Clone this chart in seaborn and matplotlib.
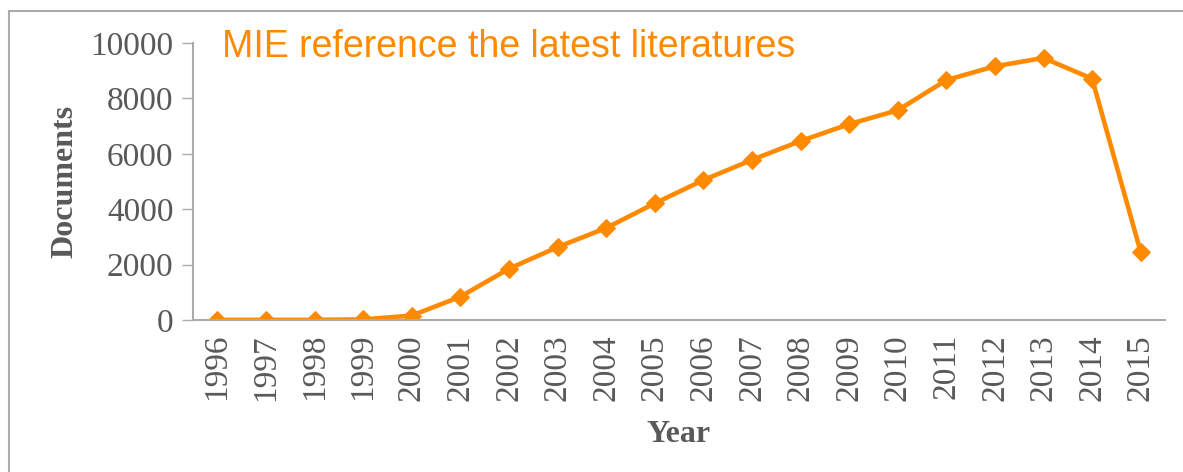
import matplotlib
matplotlib.use("Agg")
import matplotlib.pyplot as plt
from matplotlib.patches import Rectangle
import seaborn as sns
import pandas as pd


years = [1996, 1997, 1998, 1999, 2000, 2001, 2002, 2003, 2004, 2005,
         2006, 2007, 2008, 2009, 2010, 2011, 2012, 2013, 2014, 2015]
documents = [5, 5, 5, 20, 160, 840, 1850, 2630, 3320, 4210,
             5050, 5780, 6460, 7070, 7570, 8660, 9160, 9460, 8710, 2450]
y_ticks = [0, 2000, 4000, 6000, 8000, 10000]

ORANGE = "#FF8A00"
GREY_TXT = "#595959"
GREY_LINE = "#ABABAB"

df = pd.DataFrame({"Year": years, "Documents": documents})

sns.set_style("white")
plt.rcParams['font.family'] = ['Liberation Serif', 'DejaVu Serif']

fig = plt.figure(figsize=(11.83, 4.72), dpi=100)
ax = fig.add_axes([193 / 1183, 1 - 320 / 472, (1165 - 193) / 1183, (320 - 43) / 472])

sns.lineplot(data=df, x="Year", y="Documents", ax=ax, color=ORANGE,
             linewidth=3.3, marker="D", markersize=9, markeredgecolor=ORANGE)

ax.set_xlim(1995.5, 2015.5)
ax.set_ylim(0, 10000)
ax.set_xticks(years)
ax.set_xticklabels([str(y) for y in years], rotation=90)
ax.set_yticks(y_ticks)
ax.tick_params(axis="y", length=8, width=1, color=GREY_LINE, labelsize=24,
               labelcolor=GREY_TXT, pad=6, left=True)
ax.tick_params(axis="x", length=0, labelsize=24, labelcolor=GREY_TXT, pad=10)

for s in ["top", "right"]:
    ax.spines[s].set_visible(False)
for s in ["left", "bottom"]:
    ax.spines[s].set_color(GREY_LINE)
    ax.spines[s].set_linewidth(1.5)

ax.set_xlabel("Year", fontsize=23, fontweight="bold", color=GREY_TXT, labelpad=14)
ax.set_ylabel("Documents", fontsize=23, fontweight="bold", color=GREY_TXT, labelpad=8)

fig.text(222 / 1183, 1 - 47 / 472, "MIE reference the latest literatures",
         fontsize=27, color=ORANGE, family=["Liberation Sans", "DejaVu Sans"], va="center")

fig.patches.append(Rectangle((9 / 1183, -0.1), 1.2, 1.1 - 11 / 472, transform=fig.transFigure,
                             fill=False, edgecolor=GREY_LINE, linewidth=1.5))

fig.savefig("out.png", dpi=100)
